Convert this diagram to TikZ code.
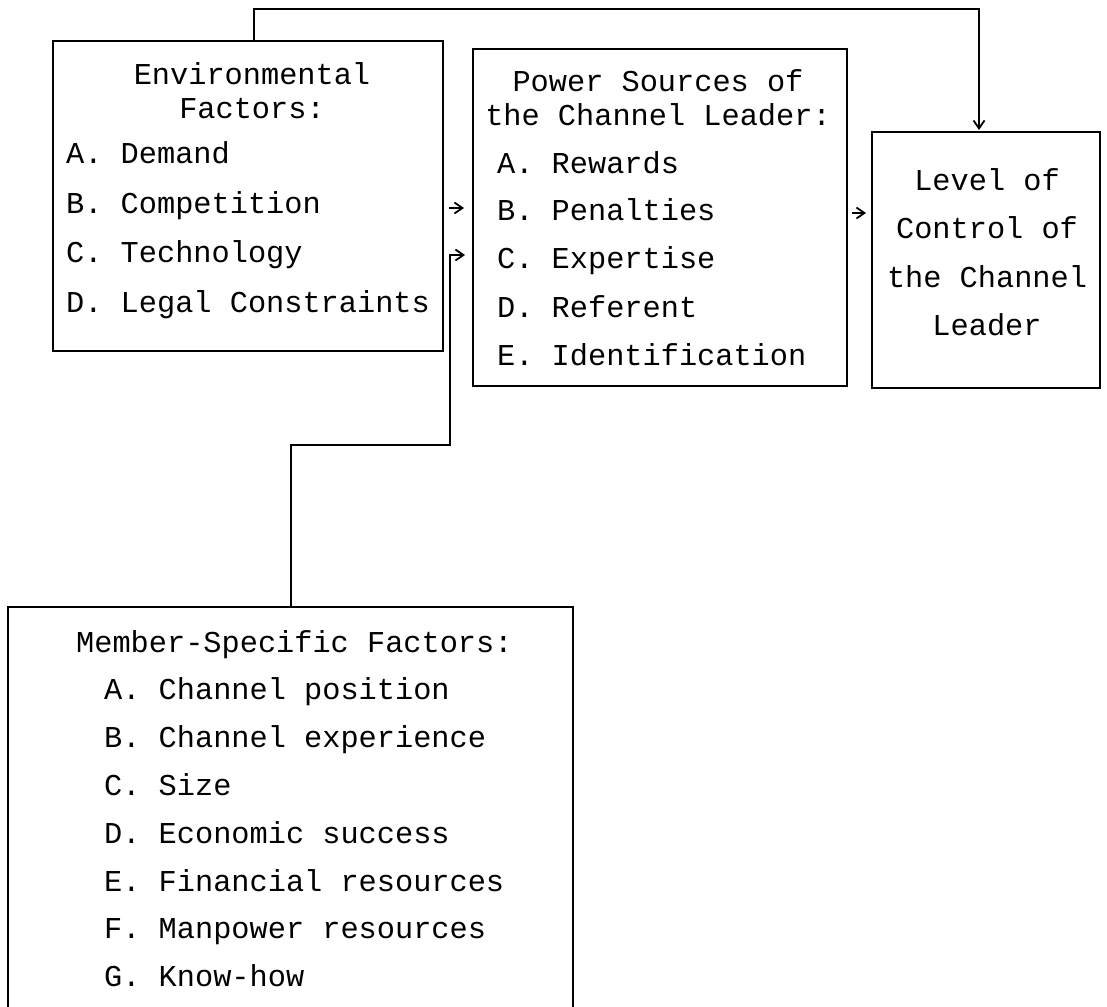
\documentclass[tikz,border=0pt]{standalone}
\usepackage{fontspec}
\setmonofont{Liberation Mono}
\usetikzlibrary{arrows.meta}
\begin{document}
\begin{tikzpicture}[x=1pt,y=-1pt,
  box/.style={draw, line width=2pt, inner sep=0pt, anchor=north west},
  txt/.style={font=\fontsize{30.3}{36}\selectfont\ttfamily, inner sep=0pt},
  lft/.style={txt, anchor=base west},
  ctr/.style={txt, anchor=base},
  arr/.style={line width=2pt, -{Straight Barb[length=8pt,width=11pt,line width=1.8pt]}}]
\useasboundingbox (0,0) rectangle (1107,1006);
\fill[white] (0,0) rectangle (1107,1006);
\clip (0,0) rectangle (1107,1006);

% boxes
\node[box, minimum width=390pt, minimum height=310pt] (env) at (52,40) {};
\node[box, minimum width=374pt, minimum height=337pt] (power) at (472,48) {};
\node[box, minimum width=228pt, minimum height=256pt] (level) at (871,131) {};
\node[box, minimum width=565pt, minimum height=450pt] (member) at (7,606) {};

% environmental factors
\node[ctr] (e0) at (252,85) {Environmental};
\node[ctr] (e1) at (252,118) {Factors:};
\node[lft] (ea) at (66,163) {A. Demand};
\node[lft] (eb) at (66,213) {B. Competition};
\node[lft] (ec) at (66,262) {C. Technology};
\node[lft] (ed) at (66,312) {D. Legal Constraints};

% power sources
\node[ctr] (p0) at (658,92) {Power Sources of};
\node[ctr] (p1) at (658,125) {the Channel Leader:};
\node[lft] (pa) at (497,173) {A. Rewards};
\node[lft] (pb) at (497,220) {B. Penalties};
\node[lft] (pc) at (497,268) {C. Expertise};
\node[lft] (pd) at (497,317) {D. Referent};
\node[lft] (pe) at (497,365) {E. Identification};

% level of control
\node[ctr] (l0) at (987,190) {Level of};
\node[ctr] (l1) at (987,238) {Control of};
\node[ctr] (l2) at (987,287) {the Channel};
\node[ctr] (l3) at (987,335) {Leader};

% member-specific factors
\node[lft] (m0) at (76,652) {Member-Specific Factors:};
\node[lft] (ma) at (104,699) {A. Channel position};
\node[lft] (mb) at (104,747) {B. Channel experience};
\node[lft] (mc) at (104,795) {C. Size};
\node[lft] (md) at (104,843) {D. Economic success};
\node[lft] (me) at (104,891) {E. Financial resources};
\node[lft] (mf) at (104,938) {F. Manpower resources};
\node[lft] (mg) at (104,986) {G. Know-how};

% connectors
\draw[arr, shorten >=1pt] (env.north west) ++(202,0) -- ++(0,-31) -| ([xshift=-7pt]level.north);
\draw[arr, shorten >=8pt] ([xshift=5pt,yshift=-12pt]env.east) coordinate (a1) -- (a1 -| power.west);
\draw[arr, shorten >=5pt] ([xshift=4pt,yshift=4.5pt]power.east) coordinate (a2) -- (a2 -| level.west);
\coordinate (mbend) at ([xshift=6pt,yshift=-59pt]env.east);
\draw[arr, shorten >=7pt] (member.north) -- ++(0,-161) -| (mbend) -- (mbend -| power.west);
\end{tikzpicture}
\end{document}
